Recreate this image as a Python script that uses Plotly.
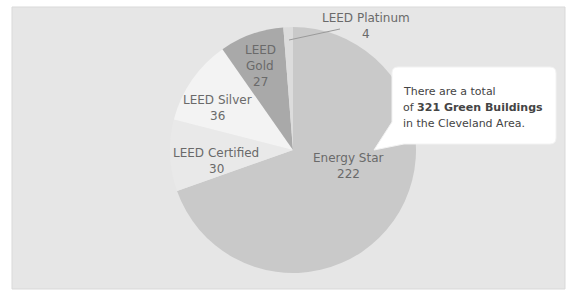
import plotly.graph_objects as go

# ---- data ----
labels = ["Energy Star", "LEED Certified", "LEED Silver", "LEED Gold", "LEED Platinum"]
values = [222, 30, 36, 27, 4]
colors = ["#c9c9c9", "#e9e9e9", "#f3f3f3", "#a9a9a9", "#dcdcdc"]
total_text = ["There are a total", "of <b>321 Green Buildings</b>", "in the Cleveland Area."]

W, H = 568, 291
FONT = "DejaVu Sans, Verdana, sans-serif"


def px(x):
    return x / W


def py(y):
    return 1 - y / H


# pie geometry (pixels)
cx, cy, r = 293, 150, 123

fig = go.Figure()
fig.add_trace(go.Pie(
    labels=labels,
    values=values,
    sort=False,
    direction="clockwise",
    rotation=0,
    marker=dict(colors=colors, line=dict(width=0)),
    textinfo="none",
    hoverinfo="label+value",
    showlegend=False,
    domain=dict(x=[px(cx - r), px(cx + r)], y=[py(cy + r), py(cy - r)]),
))

# label line positions (pixels) for each slice: (x, first line y)
label_pos = [(348, 158), (216, 153), (217, 100), (260, 50), (366, 18)]
LS = 16
annotations = []
for lab, val, (lx, ly) in zip(labels, values, label_pos):
    lines = lab.split(" ") if lab == "LEED Gold" else [lab]
    lines = lines + [str(val)]
    for i, t in enumerate(lines):
        annotations.append(dict(
            x=px(lx), y=py(ly + i * LS), xref="paper", yref="paper",
            text=t, showarrow=False,
            font=dict(family=FONT, size=12, color="#6a6a6a"),
            align="center", xanchor="center", yanchor="middle",
        ))

# callout text
for i, t in enumerate(total_text):
    annotations.append(dict(
        x=px(401), y=py(91 + i * 16), xref="paper", yref="paper",
        text=t, showarrow=False,
        font=dict(family=FONT, size=11, color="#444444"),
        align="left", xanchor="left", yanchor="middle",
    ))

# callout box path (rounded rect with tail)
x0, y0, x1, y1, rr = 392, 67, 556, 144, 6
path = (
    f"M {px(x0 + rr)} {py(y0)} L {px(x1 - rr)} {py(y0)} "
    f"Q {px(x1)} {py(y0)} {px(x1)} {py(y0 + rr)} "
    f"L {px(x1)} {py(y1 - rr)} Q {px(x1)} {py(y1)} {px(x1 - rr)} {py(y1)} "
    f"L {px(x0 + 12)} {py(y1)} L {px(374)} {py(150)} L {px(x0)} {py(y1 - 22)} "
    f"L {px(x0)} {py(y0 + rr)} Q {px(x0)} {py(y0)} {px(x0 + rr)} {py(y0)} Z"
)

shapes = [
    dict(type="rect", xref="paper", yref="paper", layer="below",
         x0=px(12), x1=px(565), y0=py(289), y1=py(7),
         fillcolor="#e6e6e6", line=dict(color="#d9d9d9", width=1)),
    dict(type="path", xref="paper", yref="paper", path=path,
         fillcolor="#ffffff", line=dict(color="#f2f2f2", width=1)),
    dict(type="line", xref="paper", yref="paper",
         x0=px(289), y0=py(40), x1=px(340), y1=py(29),
         line=dict(color="#9a9a9a", width=1)),
]

fig.update_layout(
    width=W, height=H,
    margin=dict(l=0, r=0, t=0, b=0),
    paper_bgcolor="#ffffff",
    plot_bgcolor="#ffffff",
    annotations=annotations,
    shapes=shapes,
)

fig.write_html(
    "out.html",
    config={"displayModeBar": False},
    post_script="document.body.style.margin='0';document.body.style.overflow='hidden';",
)
